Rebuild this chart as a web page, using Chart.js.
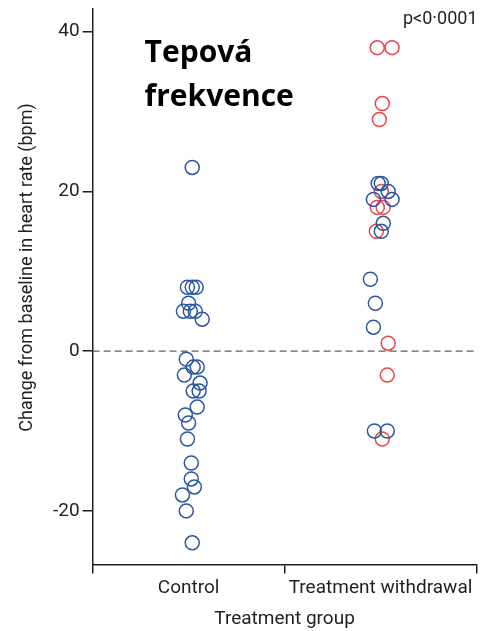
<!DOCTYPE html>
<html>
<head>
<meta charset="utf-8">
<title>Tepová frekvence</title>
<script src="https://cdn.jsdelivr.net/npm/chart.js@4/dist/chart.umd.min.js"></script>
<style>
  html, body { margin: 0; padding: 0; background: #fff; }
  #wrap { position: relative; width: 485px; height: 631px; }
</style>
</head>
<body>
<div id="wrap"><canvas id="chart"></canvas></div>
<script>
// Treatment groups along the x axis
const categories = ['Control', 'Treatment withdrawal'];
// Tick labels on the y axis (bpm)
const yTicks = [-20, 0, 20, 40];

// Control group: change in heart rate (bpm) and horizontal spread within the column
const controlValues = [23, 8, 8, 8, 6, 5, 5, 5, 4, -1, -2, -2, -3, -4, -5, -5, -7, -8, -9, -11, -14, -16, -17, -18, -20, -24];
const controlSpread = [0.019, -0.006, 0.019, 0.040, 0, -0.027, 0.009, 0.035, 0.071, -0.012, 0.024, 0.045, -0.022, 0.060, 0.024, 0.055, 0.045, -0.017, 0, -0.006, 0.014, 0.014, 0.030, -0.032, -0.012, 0.019];

// Treatment withdrawal group, blue markers
const withdrawalBlueValues = [21, 21, 20, 19, 19, 16, 15, 9, 6, 3, -10, -10];
const withdrawalBlueSpread = [-0.012, 0.004, 0.040, -0.037, 0.060, 0.014, 0.004, -0.053, -0.027, -0.037, -0.032, 0.035];

// Treatment withdrawal group, red markers
const withdrawalRedValues = [38, 38, 31, 29, 20, 18, 18, 15, 1, -3, -11];
const withdrawalRedSpread = [-0.017, 0.060, 0.009, -0.006, 0.004, -0.017, 0.014, -0.022, 0.040, 0.035, 0.009];

const yTitle = 'Change from baseline in heart rate (bpm)';

const BLUE = '#2b579e';
const RED = '#e8474c';
const INK = '#231f20';
const FONT = 'Roboto';

// Column i is centred at i + 0.5 on the hidden linear x scale
function column(index, values, spread) {
  return values.map((v, i) => ({ x: index + 0.5 + spread[i], y: v }));
}

function markers(label, data, color) {
  return {
    type: 'scatter',
    label,
    data,
    borderColor: color,
    backgroundColor: 'rgba(0,0,0,0)',
    pointStyle: 'circle',
    pointRadius: 7,
    pointHoverRadius: 7,
    borderWidth: 1.5,
    pointBorderWidth: 1.5
  };
}

// Heading, p value and the rotated y-axis title
const annotations = {
  id: 'annotations',
  afterDraw(chart) {
    const { ctx, chartArea: a } = chart;
    ctx.save();
    ctx.fillStyle = '#000';
    ctx.textAlign = 'left';
    ctx.textBaseline = 'alphabetic';
    ctx.font = 'bold 30px "Open Sans"';
    ctx.fillText('Tepová', a.left + 52, 62);
    ctx.fillText('frekvence', a.left + 52, 106);

    ctx.fillStyle = INK;
    ctx.textAlign = 'right';
    ctx.font = '18px ' + FONT;
    ctx.fillText('p<0·0001', a.right + 1, 24);

    ctx.translate(27, (a.top + a.bottom) / 2 - 19);
    ctx.rotate(-Math.PI / 2);
    ctx.textAlign = 'center';
    ctx.textBaseline = 'middle';
    ctx.font = '18px ' + FONT;
    ctx.fillText(yTitle, 0, 0);
    ctx.restore();
  }
};

new Chart(document.getElementById('chart'), {
  type: 'scatter',
  data: {
    datasets: [
      markers('Treatment withdrawal (blue)', column(1, withdrawalBlueValues, withdrawalBlueSpread), BLUE),
      markers('Treatment withdrawal (red)', column(1, withdrawalRedValues, withdrawalRedSpread), RED),
      markers('Control', column(0, controlValues, controlSpread), BLUE),
      {
        type: 'line',
        label: 'Baseline',
        data: [{ x: 0, y: 0 }, { x: 2, y: 0 }],
        borderColor: '#4a6579',
        borderWidth: 1.3,
        borderDash: [7, 4],
        pointRadius: 0,
        fill: false
      }
    ]
  },
  options: {
    responsive: true,
    maintainAspectRatio: false,
    animation: false,
    events: [],
    layout: { padding: { top: 7, right: 3, left: 50, bottom: 0 } },
    plugins: {
      legend: { display: false },
      tooltip: { enabled: false }
    },
    scales: {
      x: {
        type: 'linear',
        min: 0,
        max: 2,
        afterBuildTicks(scale) {
          scale.ticks = [0, 0.5, 1, 1.5, 2].map(v => ({ value: v }));
        },
        ticks: {
          autoSkip: false,
          maxRotation: 0,
          padding: 3,
          color: INK,
          font: { family: FONT, size: 19 },
          callback: v => (v % 1 === 0.5 ? categories[Math.floor(v)] : '')
        },
        grid: {
          drawOnChartArea: false,
          drawTicks: true,
          tickLength: 9,
          lineWidth: 1.5,
          color: ctx => (ctx.tick && ctx.tick.value % 1 === 0.5 ? 'rgba(0,0,0,0)' : INK)
        },
        border: { display: true, color: INK, width: 1.5 },
        title: {
          display: true,
          text: 'Treatment group',
          color: INK,
          font: { family: FONT, size: 19 },
          padding: { top: 6, bottom: 0 }
        }
      },
      y: {
        min: -26.7,
        max: 42.9,
        afterBuildTicks(scale) {
          scale.ticks = yTicks.map(v => ({ value: v }));
        },
        // the top and bottom ticks sit well inside the axis, so no label overhang is needed
        afterFit(scale) {
          scale.paddingTop = 0;
          scale.paddingBottom = 0;
        },
        ticks: {
          padding: 3,
          color: INK,
          font: { family: FONT, size: 19 }
        },
        grid: {
          drawOnChartArea: false,
          drawTicks: true,
          tickLength: 10,
          lineWidth: 1.5,
          color: INK
        },
        border: { display: true, color: INK, width: 1.5 },
        title: { display: false }
      }
    }
  },
  plugins: [annotations]
});
</script>
</body>
</html>
